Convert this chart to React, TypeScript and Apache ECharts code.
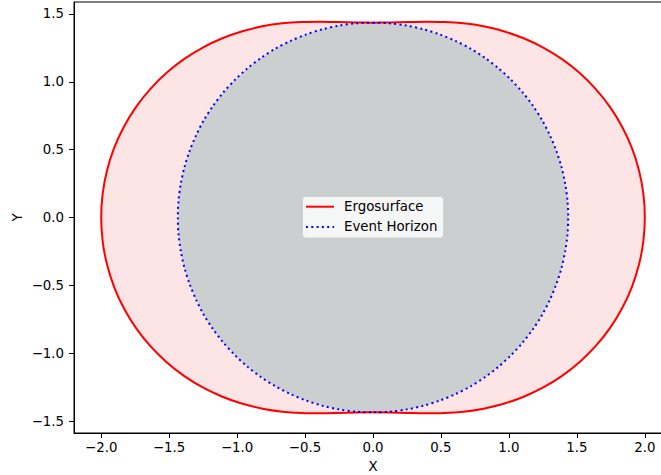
import React, { useEffect, useRef } from "react";
import * as echarts from "echarts";

// One quadrant (theta = 0..90 deg, 5 deg steps) of each curve
const ergoX = [0, 0.1258, 0.2541, 0.3867, 0.5245, 0.6671, 0.8133, 0.9611, 1.1084, 1.2526, 1.3909, 1.5207, 1.6394, 1.7445, 1.8338, 1.9053, 1.9575, 1.9893, 2.0];
const ergoY = [1.4359, 1.4374, 1.4408, 1.4433, 1.4411, 1.4306, 1.4086, 1.3726, 1.3209, 1.2526, 1.1671, 1.0648, 0.9465, 0.8135, 0.6674, 0.5105, 0.3452, 0.1741, 0];
const horizonX = [0, 0.125, 0.249, 0.372, 0.491, 0.607, 0.718, 0.824, 0.923, 1.015, 1.1, 1.176, 1.244, 1.301, 1.349, 1.387, 1.414, 1.431, 1.436];
const horizonY = [1.436, 1.431, 1.414, 1.387, 1.349, 1.301, 1.244, 1.176, 1.1, 1.015, 0.923, 0.824, 0.718, 0.607, 0.491, 0.372, 0.249, 0.125, 0];

const xTicks = [-2.0, -1.5, -1.0, -0.5, 0.0, 0.5, 1.0, 1.5, 2.0];
const yTicks = [-1.5, -1.0, -0.5, 0.0, 0.5, 1.0, 1.5];
const seriesNames = ["Ergosurface", "Event Horizon"];

// Close the curve by mirroring the quadrant
function closed(xs: number[], ys: number[]): number[][] {
  const n = xs.length;
  const out: number[][] = [];
  for (let i = 0; i < n; i++) out.push([xs[i], ys[i]]);
  for (let i = n - 2; i >= 0; i--) out.push([xs[i], -ys[i]]);
  for (let i = 1; i < n; i++) out.push([-xs[i], -ys[i]]);
  for (let i = n - 2; i >= 0; i--) out.push([-xs[i], ys[i]]);
  return out;
}

const FONT = "DejaVu Sans";
const fmt = (v: number) => v.toFixed(1).replace("-", "\u2212");

export default function App() {
  const ref = useRef<HTMLDivElement>(null);
  useEffect(() => {
    if (!ref.current) return;
    const chart = echarts.init(ref.current, undefined, { renderer: "svg" });
    const ergo = closed(ergoX, ergoY);
    const hor = closed(horizonX, horizonY);
    const fillSeries = (pts: number[][], color: string, z: number) => ({
      type: "custom",
      coordinateSystem: "cartesian2d",
      data: [[0, 0]],
      z,
      silent: true,
      renderItem: (_p: any, api: any) => ({
        type: "polygon",
        shape: { points: pts.slice(0, pts.length - 1).map((p) => api.coord(p)), smooth: 0.3 },
        style: { fill: color, stroke: "none" },
      }),
    });
    chart.setOption({
      animation: false,
      backgroundColor: "#ffffff",
      textStyle: { fontFamily: FONT },
      grid: {
        left: 74,
        top: 2,
        width: 598,
        height: 431,
        outerBoundsMode: "none",
        containLabel: false,
        show: true,
        borderColor: "#000",
        borderWidth: 1,
        backgroundColor: "transparent",
      },
      xAxis: {
        type: "value",
        min: -2.2,
        max: 2.2,
        name: "X",
        nameLocation: "middle",
        nameGap: 27,
        nameTextStyle: { fontFamily: FONT, fontSize: 13.33, color: "#000" },
        axisLine: { show: true, onZero: false, lineStyle: { color: "#000", width: 1 } },
        axisTick: { show: true, length: 5, customValues: xTicks, lineStyle: { color: "#000", width: 1 } },
        axisLabel: { customValues: xTicks, formatter: fmt, margin: 8, fontFamily: FONT, fontSize: 13.33, color: "#000" },
        splitLine: { show: false },
      },
      yAxis: {
        type: "value",
        min: -1.588,
        max: 1.588,
        axisLine: { show: true, onZero: false, lineStyle: { color: "#000", width: 1 } },
        axisTick: { show: true, length: 5, customValues: yTicks, lineStyle: { color: "#000", width: 1 } },
        axisLabel: { customValues: yTicks, formatter: fmt, margin: 10, fontFamily: FONT, fontSize: 13.33, color: "#000" },
        splitLine: { show: false },
      },
      series: [
        fillSeries(ergo, "#fde5e5", 1),
        fillSeries(hor, "#cbcfcf", 2),
        {
          type: "line",
          name: seriesNames[0],
          data: ergo,
          showSymbol: false,
          symbol: "none",
          smooth: 0.3,
          z: 3,
          lineStyle: { color: "#ff0000", width: 2 },
        },
        {
          type: "line",
          name: seriesNames[1],
          data: hor,
          showSymbol: false,
          symbol: "none",
          smooth: 0.3,
          z: 4,
          lineStyle: { color: "#0000ff", width: 2, type: [2, 3.3], cap: "butt" },
        },
      ],
      graphic: {
        elements: [
          {
            type: "text",
            id: "ylabel",
            z: 100,
            x: 17,
            y: 217.5,
            rotation: Math.PI / 2,
            style: { text: "Y", font: "13.33px 'DejaVu Sans'", fill: "#000", verticalAlign: "middle", align: "center" },
          },
          {
            type: "rect",
            id: "lgbox",
            z: 100,
            shape: { x: 302.5, y: 196.5, width: 141, height: 41.5, r: 3 },
            style: { fill: "rgba(255,255,255,0.8)", stroke: "rgba(204,204,204,0.8)", lineWidth: 1 },
          },
          {
            type: "line",
            id: "lgl1",
            z: 101,
            shape: { x1: 306, y1: 206.7, x2: 334, y2: 206.7 },
            style: { stroke: "#ff0000", lineWidth: 2 },
          },
          {
            type: "line",
            id: "lgl2",
            z: 101,
            shape: { x1: 306, y1: 227, x2: 334, y2: 227 },
            style: { stroke: "#0000ff", lineWidth: 2, lineDash: [2, 3.3] },
          },
          {
            type: "text",
            id: "lgt1",
            z: 101,
            x: 344,
            y: 206.5,
            style: { text: seriesNames[0], font: "13.33px 'DejaVu Sans'", fill: "#000", verticalAlign: "middle", align: "left" },
          },
          {
            type: "text",
            id: "lgt2",
            z: 101,
            x: 344,
            y: 226.5,
            style: { text: seriesNames[1], font: "13.33px 'DejaVu Sans'", fill: "#000", verticalAlign: "middle", align: "left" },
          },
        ],
      },
    });
    return () => chart.dispose();
  }, []);
  return (
    <div style={{ position: "fixed", left: 0, top: 0, width: 661, height: 475, overflow: "hidden" }}>
      <div ref={ref} style={{ width: 700, height: 475 }} />
    </div>
  );
}
